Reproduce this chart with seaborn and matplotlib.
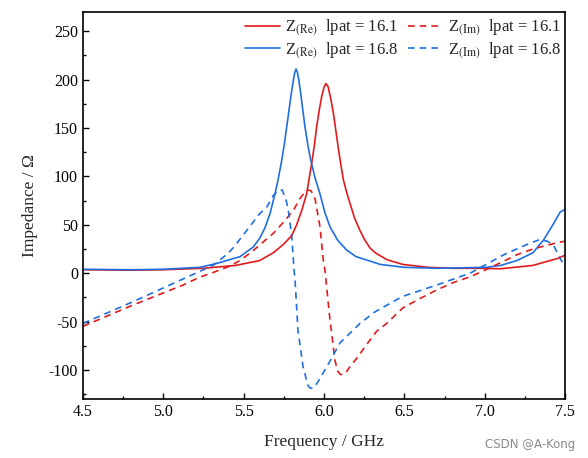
import matplotlib
matplotlib.use("Agg")
import matplotlib.pyplot as plt
import numpy as np
import pandas as pd
import seaborn as sns
from matplotlib.ticker import MultipleLocator

# values (frequency in GHz, impedance in ohm)
re_161_f = [4.5, 4.8, 5.0, 5.25, 5.45, 5.6, 5.684, 5.75, 5.8, 5.83, 5.86, 5.892,
            5.923, 5.94, 5.954, 5.97, 5.985, 6.0, 6.012, 6.025, 6.04, 6.058,
            6.075, 6.09, 6.105, 6.12, 6.14, 6.162, 6.19, 6.224, 6.255, 6.286,
            6.32, 6.35, 6.39, 6.49, 6.65, 6.8, 6.97, 7.1, 7.3, 7.45, 7.5]
re_161_z = [3.5, 3.0, 3.5, 5, 8, 13, 21, 30, 39, 50, 64, 82,
            113, 132, 151, 168, 182, 192, 196, 193, 182, 166,
            146, 128, 112, 97, 84, 72, 57, 44, 34, 26,
            21, 18, 14, 9, 6, 5, 5, 4.5, 8, 15, 18.5]

re_168_f = [4.5, 4.8, 5.0, 5.228, 5.332, 5.434, 5.477, 5.56, 5.6, 5.633, 5.665,
            5.695, 5.715, 5.737, 5.753, 5.768, 5.782, 5.795, 5.81, 5.818, 5.826,
            5.834, 5.842, 5.855, 5.868, 5.882, 5.9, 5.918, 5.945, 5.975, 6.005,
            6.037, 6.085, 6.14, 6.2, 6.276, 6.35, 6.5, 6.7, 7.01, 7.1, 7.2,
            7.3, 7.365, 7.428, 7.469, 7.5]
re_168_z = [4, 3.5, 4, 6, 10, 15, 17, 27, 36, 47, 62,
            82, 97, 116.5, 133, 151, 168, 184, 200, 207, 211,
            208, 201, 186, 169, 151, 132, 116.5, 98, 82, 63,
            48, 34, 24, 17, 13, 9, 6, 5, 6, 8, 13,
            21, 34, 51, 63, 66]

im_161_f = [4.5, 4.811, 5.122, 5.228, 5.3, 5.41, 5.477, 5.55, 5.684, 5.75, 5.81,
            5.85, 5.882, 5.9, 5.92, 5.944, 5.96, 5.975, 5.996, 6.006, 6.037,
            6.068, 6.085, 6.1, 6.115, 6.135, 6.16, 6.204, 6.26, 6.328, 6.39,
            6.49, 6.6, 6.7, 6.8, 6.909, 7.0, 7.114, 7.2, 7.3, 7.44, 7.5]
im_161_z = [-55, -33, -12.4, -4, 0, 7, 13, 22, 41, 53, 65,
            77, 84, 86, 85, 77, 62, 48, 13, 3, -48,
            -90, -101, -104.5, -105, -103, -97, -88, -75, -60, -52,
            -36, -26, -17.5, -10, -3.8, 3, 12, 19, 25, 31, 33]

im_168_f = [4.5, 4.811, 5.017, 5.31, 5.4, 5.434, 5.477, 5.6, 5.643, 5.684, 5.712,
            5.74, 5.765, 5.778, 5.8, 5.813, 5.82, 5.838, 5.87, 5.9, 5.912,
            5.923, 5.935, 5.96, 6.017, 6.1, 6.224, 6.317, 6.49, 6.7, 6.91,
            7.114, 7.2, 7.282, 7.34, 7.39, 7.428, 7.469, 7.5]
im_168_z = [-52, -29.6, -14, 8, 20, 26, 35, 61.5, 68, 80, 85,
            86, 75, 65, 37, 5, -7, -59, -97, -116, -118.5,
            -119, -118.5, -113, -97, -72, -52, -40, -24, -12.4, 0,
            18.6, 25, 31, 34.5, 33, 29, 15, 7]

legend_labels = [r"Z$_{\mathrm{(Re)}}$  lpat = 16.1", r"Z$_{\mathrm{(Re)}}$  lpat = 16.8",
                 r"Z$_{\mathrm{(Im)}}$  lpat = 16.1", r"Z$_{\mathrm{(Im)}}$  lpat = 16.8"]
x_ticks = [4.5, 5.0, 5.5, 6.0, 6.5, 7.0, 7.5]
y_ticks = [-100, -50, 0, 50, 100, 150, 200, 250]

RED, BLUE = "#E31A1C", "#1F6FE0"

frames = []
for f, z, name in [(re_161_f, re_161_z, legend_labels[0]),
                   (re_168_f, re_168_z, legend_labels[1]),
                   (im_161_f, im_161_z, legend_labels[2]),
                   (im_168_f, im_168_z, legend_labels[3])]:
    frames.append(pd.DataFrame({"freq": f, "imp": z, "series": name}))
df = pd.concat(frames, ignore_index=True)

sns.set_style("white")
plt.rcParams["font.family"] = ["Liberation Serif", "DejaVu Serif"]
plt.rcParams["mathtext.fontset"] = "stix"
plt.rcParams["axes.unicode_minus"] = False

fig = plt.figure(figsize=(5.88, 4.58), dpi=100)
ax = fig.add_axes([0.141, 0.129, 0.820, 0.845])

sns.lineplot(data=df, x="freq", y="imp", hue="series", style="series",
             hue_order=legend_labels, style_order=legend_labels,
             palette=[RED, BLUE, RED, BLUE],
             dashes=["", "", (4, 3), (4, 3)],
             estimator=None, sort=False, linewidth=1.2, ax=ax)

ax.set_xlim(4.5, 7.5)
ax.set_ylim(-130, 270)
ax.set_xticks(x_ticks)
ax.set_xticklabels([f"{t:.1f}" for t in x_ticks])
ax.set_yticks(y_ticks)
ax.xaxis.set_minor_locator(MultipleLocator(0.25))
ax.yaxis.set_minor_locator(MultipleLocator(25))
ax.tick_params(which="both", direction="in", bottom=True, left=True,
               top=False, right=False, labelsize=11.5, colors="black")
ax.tick_params(which="major", length=4, width=1)
ax.tick_params(which="minor", length=2.5, width=1)
for s in ax.spines.values():
    s.set_color("black")
    s.set_linewidth(1.2)

ax.set_xlabel("Frequency / GHz", fontsize=12.5, labelpad=10)
ax.set_ylabel("Impedance / \u03a9", fontsize=12.5, labelpad=8)

handles, labels = ax.get_legend_handles_labels()
ax.legend(handles, labels, ncol=2, loc="upper right", bbox_to_anchor=(1.012, 1.01),
          frameon=False, fontsize=12, handlelength=2.1, handletextpad=0.3,
          columnspacing=0.55, labelspacing=0.15, borderaxespad=0.2)

fig.text(0.978, 0.03, "CSDN @A-Kong", ha="right", va="center", fontsize=8.5,
         color="#8a8a8a", family="DejaVu Sans")

fig.savefig("out.png", dpi=100)
